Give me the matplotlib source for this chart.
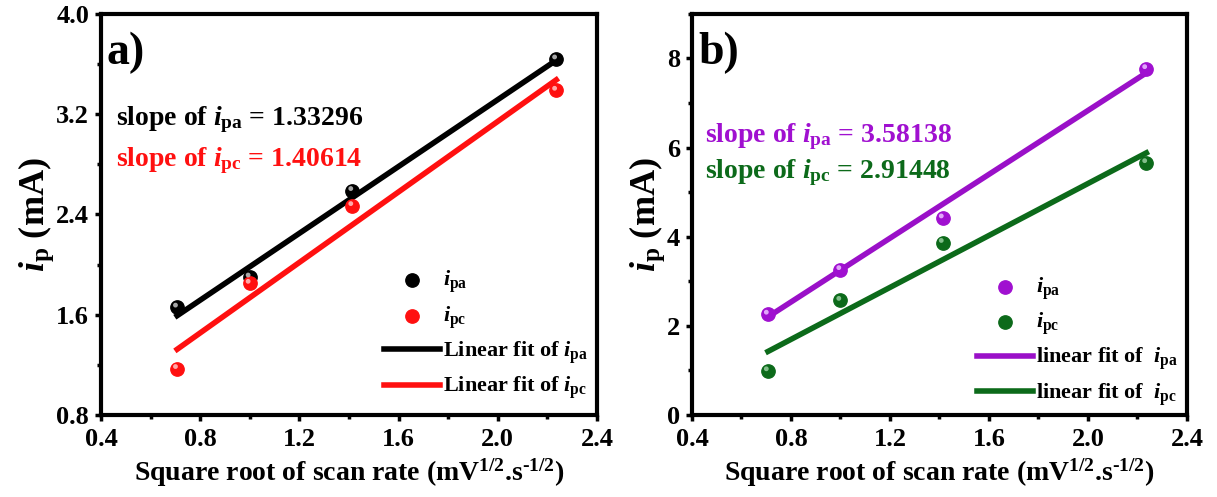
import numpy as np
import matplotlib
matplotlib.use("Agg")
import matplotlib.pyplot as plt
from matplotlib.ticker import MultipleLocator
import matplotlib.transforms as mtransforms

plt.rcParams['font.family'] = ['Liberation Serif']
plt.rcParams['font.weight'] = 'bold'
plt.rcParams['mathtext.fontset'] = 'custom'
plt.rcParams['mathtext.rm'] = 'Liberation Serif:bold'
plt.rcParams['mathtext.it'] = 'Liberation Serif:bold:italic'
plt.rcParams['mathtext.bf'] = 'Liberation Serif:bold'

# data
x_sqrt = [0.707, 1.0, 1.414, 2.236]
a_ipa = [1.66, 1.90, 2.59, 3.64]
a_ipc = [1.17, 1.85, 2.47, 3.39]
a_fit_ipa = (1.33296, 0.65)   # slope, intercept
a_fit_ipc = (1.40614, 0.33)
b_ipa = [2.26, 3.26, 4.42, 7.77]
b_ipc = [0.99, 2.57, 3.87, 5.66]
b_fit_ipa = (3.58138, -0.33)
b_fit_ipc = (2.91448, -0.635)
fit_range = [0.707, 2.236]

fig = plt.figure(figsize=(12.17, 4.97), dpi=100)
axA = fig.add_axes([0.083, 0.165, 0.4075, 0.807])
axB = fig.add_axes([0.5686, 0.165, 0.4067, 0.807])

def sphere(ax, x, y, color, hl, label):
    ax.scatter(x, y, s=92, color=color, edgecolors=color, zorder=4, label=label)
    off = mtransforms.offset_copy(ax.transData, fig=fig, x=-1.2, y=1.5, units='points')
    ax.scatter(x, y, s=12, color=hl, edgecolors='none', zorder=5, transform=off, alpha=0.9)

def style(ax, ylim, major, minor, yfmt):
    ax.set_xlim(0.4, 2.4)
    ax.set_ylim(*ylim)
    ax.xaxis.set_major_locator(MultipleLocator(0.4))
    ax.xaxis.set_minor_locator(MultipleLocator(0.2))
    ax.yaxis.set_major_locator(MultipleLocator(major))
    ax.yaxis.set_minor_locator(MultipleLocator(minor))
    ax.xaxis.set_major_formatter(matplotlib.ticker.FormatStrFormatter('%.1f'))
    ax.yaxis.set_major_formatter(matplotlib.ticker.FormatStrFormatter(yfmt))
    for s in ax.spines.values():
        s.set_linewidth(3)
    ax.tick_params(which='major', direction='out', length=4.5, width=2.5, labelsize=19)
    ax.tick_params(which='minor', direction='out', length=3, width=2.5)
    ax.tick_params(axis='x', which='major', pad=5)
    ax.tick_params(axis='y', which='major', pad=4)
    for lab in ax.get_xticklabels() + ax.get_yticklabels():
        lab.set_fontweight('bold')
    ax.set_xlabel(r'Square root of scan rate (mV$^{1/2}$.s$^{\text{-}1/2}$)', fontsize=20, fontweight='bold', labelpad=4)
    ax.set_ylabel(r'$i_\mathrm{p}$ (mA)', fontsize=26, fontweight='bold', labelpad=0)

fx = np.array(fit_range)

def legend(ax, yanchor):
    ax.legend(loc='lower right', frameon=False, fontsize=16, handlelength=2.5, handletextpad=0.15,
              labelspacing=0.4, borderaxespad=0.0, bbox_to_anchor=(1.0, yanchor))

# panel a
sphere(axA, x_sqrt, a_ipa, 'black', '#bbbbbb', r'$i_\mathrm{pa}$')
sphere(axA, x_sqrt, a_ipc, '#ff1010', '#ffbbbb', r'$i_\mathrm{pc}$')
axA.plot(fx, a_fit_ipa[0] * fx + a_fit_ipa[1], color='black', lw=4, label=r'Linear fit of $i_\mathrm{pa}$', zorder=3)
axA.plot(fx, a_fit_ipc[0] * fx + a_fit_ipc[1], color='#ff1010', lw=4, label=r'Linear fit of $i_\mathrm{pc}$', zorder=3)
style(axA, (0.8, 4.0), 0.8, 0.4, '%.1f')
axA.text(0.012, 0.955, 'a)', transform=axA.transAxes, fontsize=33, fontweight='bold', va='top', ha='left')
axA.text(0.03, 0.736, r'slope of $i_\mathrm{pa}$ = 1.33296', transform=axA.transAxes, fontsize=20, fontweight='bold', color='black', va='center')
axA.text(0.03, 0.633, r'slope of $i_\mathrm{pc}$ = 1.40614', transform=axA.transAxes, fontsize=20, fontweight='bold', color='#ff1010', va='center')
legend(axA, 0.012)

# panel b
sphere(axB, x_sqrt, b_ipa, '#a010d0', '#e8b8ff', r'$i_\mathrm{pa}$')
sphere(axB, x_sqrt, b_ipc, '#0c6a1a', '#90c898', r'$i_\mathrm{pc}$')
axB.plot(fx, b_fit_ipa[0] * fx + b_fit_ipa[1], color='#9a10c8', lw=4, label=r'linear fit of  $i_\mathrm{pa}$', zorder=3)
axB.plot(fx, b_fit_ipc[0] * fx + b_fit_ipc[1], color='#0c6a1a', lw=4, label=r'linear fit of  $i_\mathrm{pc}$', zorder=3)
style(axB, (0, 9), 2, 1, '%d')
axB.text(0.012, 0.955, 'b)', transform=axB.transAxes, fontsize=33, fontweight='bold', va='top', ha='left')
axB.text(0.026, 0.695, r'slope of $i_\mathrm{pa}$ = 3.58138', transform=axB.transAxes, fontsize=20, fontweight='bold', color='#a010d0', va='center')
axB.text(0.026, 0.603, r'slope of $i_\mathrm{pc}$ = 2.91448', transform=axB.transAxes, fontsize=20, fontweight='bold', color='#0c6a1a', va='center')
legend(axB, -0.004)

fig.savefig('out.png', dpi=100)
